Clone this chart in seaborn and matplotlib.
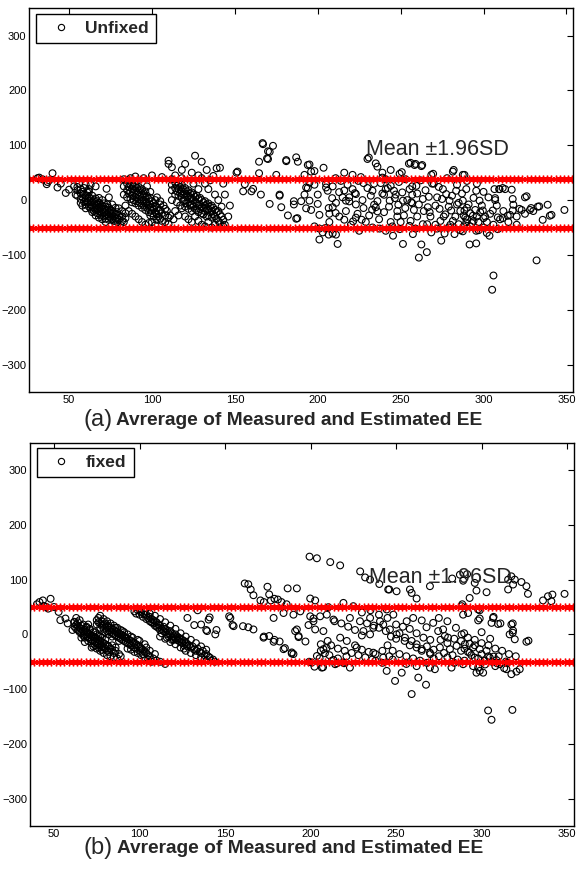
import numpy as np
import pandas as pd
import seaborn as sns
import matplotlib.pyplot as plt
from matplotlib.lines import Line2D

sns.set_style('white')
plt.rcParams['font.family'] = ['Liberation Sans', 'DejaVu Sans']

# ---------------------------------------------------------------------
# (a) Unfixed : (average, difference) pairs
# ---------------------------------------------------------------------
unfixed_left = [(32, 41), (34, 38), (37, 33), (36.5, 29), (40, 49), (43, 23), (45, 30),
                (48, 13), (50, 19), (53, 25), (38, 36), (31, 40)]
unfixed_c1 = [(55, 18), (55, 8), (55, 24), (57, 12), (57, 2), (57, 20), (58, 5), (58, 15),
              (59, -3), (59, 10), (59, 22), (60, 0), (60, 8), (60, -8), (61, 4), (61, -5),
              (61, 14), (62, -2), (62, -12), (62, 6), (63, 2), (63, -8), (63, -16), (64, -4),
              (64, 8), (64, -12), (65, -6), (65, -14), (65, 0), (65, -20), (66, -10), (66, 3),
              (66, -18), (67, -8), (67, -2), (67, -15), (67, -24), (68, -12), (68, -5), (68, -20),
              (68, 4), (69, -14), (69, -8), (69, -22), (69, -28), (70, -10), (70, -18), (70, -25),
              (70, 0), (71, -16), (71, -22), (71, -30), (71, -6), (72, -20), (72, -12), (72, -28),
              (72, -34), (73, -18), (73, -26), (73, -8), (74, -22), (74, -30), (74, -36), (74, -14),
              (75, -24), (75, -32), (75, -18), (76, -28), (76, -36), (76, -20), (77, -30), (77, -24),
              (77, -38), (78, -26), (78, -34), (78, -14), (79, -32), (79, -40), (79, -22), (80, -28),
              (80, -36), (82, -30), (82, -20), (82, -38), (84, -24), (84, -33), (72.6, 20.6),
              (66, 25), (63, 28), (56, 30), (58, -10), (60, -15), (62, 15), (64, -22), (66, -28),
              (68, -32), (70, -35), (72, -40), (74, 5), (76, -8), (78, -44), (80, -15), (81, -45),
              (83, -40), (62, 20), (60, 28), (57, -5), (54, 10)]
unfixed_c2 = [(83, 10), (83, 25), (83, 38), (85, 30), (85, 18), (85, 5), (86, 24), (86, 12),
              (86, 36), (87, 28), (87, 15), (87, 2), (88, 20), (88, 8), (88, 30), (88, -4),
              (89, 25), (89, 14), (89, 0), (90, 18), (90, 5), (90, -6), (90, 28), (91, 22),
              (91, 10), (91, -2), (92, 14), (92, 2), (92, -10), (92, 24), (93, 18), (93, 6),
              (93, -6), (94, 10), (94, -2), (94, -14), (94, 20), (95, 12), (95, 0), (95, -10),
              (96, 6), (96, -6), (96, -18), (96, 16), (97, 8), (97, -4), (97, -14), (98, 2),
              (98, -10), (98, -22), (99, 4), (99, -8), (99, -18), (99, -28), (100, -2), (100, -14),
              (100, -24), (101, -6), (101, -16), (101, -30), (102, -10), (102, -22), (102, 0),
              (103, -14), (103, -26), (103, -36), (104, -20), (104, -30), (105, -18), (105, -34),
              (105, -8), (106, -24), (106, -38), (108, -28), (108, -40), (108, -16), (110, -32),
              (110, -44), (110, 66), (110, 72), (112, 60), (106, 42), (100, 45), (95, 40), (90, 43),
              (84, -10), (86, -20), (88, -25), (90, -30), (92, -35), (94, -40), (96, -45),
              (98, -42), (100, -40), (102, -46), (87, 40), (91, 35), (97, 25), (99, 15), (103, 5),
              (105, -2), (107, -10), (109, -20), (111, -28), (113, -35)]
unfixed_c3 = [(112, 38), (112, 28), (112, 18), (112, 0), (114, 32), (114, 22), (114, 10),
              (114, 45), (115, 26), (115, 16), (115, -4), (116, 30), (116, 20), (116, 8), (117, 24),
              (117, 12), (117, -10), (118, 28), (118, 16), (118, 4), (118, 40), (119, 20), (119, 10),
              (119, -2), (120, 22), (120, 12), (120, 0), (120, -12), (120, 66), (121, 16), (121, 6),
              (121, -6), (122, 18), (122, 8), (122, -4), (122, -16), (123, 12), (123, 2), (123, -10),
              (124, 14), (124, 4), (124, -8), (124, -20), (125, 10), (125, 0), (125, -12), (125, 30),
              (126, 6), (126, -4), (126, -16), (126, 81), (127, 8), (127, -6), (127, -18), (128, 2),
              (128, -10), (128, -22), (128, 20), (129, 4), (129, -8), (129, -16), (130, 0),
              (130, -12), (130, -24), (130, 70), (130, 40), (131, -4), (131, -14), (131, -26),
              (132, -2), (132, -10), (132, -20), (132, 30), (133, -8), (133, -18), (133, -30),
              (134, -6), (134, -16), (134, -28), (134, 20), (135, -12), (135, -22), (135, 36),
              (136, -10), (136, -20), (136, -32), (137, -14), (137, -26), (137, 44), (138, -18),
              (138, -30), (138, 10), (139, -22), (139, -34), (139, 58), (140, -20), (140, -38),
              (140, 0), (141, -26), (141, -42), (141, 59), (142, -30), (142, -12), (143, -36),
              (143, -48), (144, 10), (144, -45), (114, -20), (116, -28), (118, -15), (120, -30),
              (122, -35), (124, -40), (126, -30), (128, -38), (130, -45), (132, -48), (134, -40),
              (136, -50), (138, -45), (118, 55), (124, 50), (128, 45), (133, 55), (143, 30),
              (146, -30), (147, -10)]
unfixed_mid = [(151.6, 52), (156, 29), (155, 16), (164.6, 70), (166.7, 104), (167, 102),
               (173, 99), (171, 88), (169.4, 76), (164.6, 49), (160, 16), (165.7, 10), (171, -7),
               (175, 46), (177, 10), (181, 73), (187, 78), (188, 70), (185.6, -2), (187.7, -33),
               (185.6, -8), (192, 46), (194, 64), (196, 52), (198, 28), (200, 10), (203.5, 59),
               (194, 22), (192, 10), (190, -2), (193, -15), (196, -18), (201, -27), (198, -48),
               (201, -72), (206.6, -63), (204.5, -51), (211, -63), (212, -80), (151, 50), (161, 20.5),
               (170, 89), (170, 75), (177, 8), (178, -13), (182, -28), (187, -34), (181, 71),
               (195, 65), (198, 53), (195, 32), (193, 23), (195, -1), (200, -7), (201, -52),
               (203, -59), (209, -13), (207, -25), (209, -61), (205, 23), (206, 17), (216, 50),
               (219, 5), (217, -1), (223, 11), (223, -32), (225, -56), (230, 75), (233, 17),
               (235, -13)]
unfixed_right = [(255, 66.5), (258.4, 64), (262.5, 62), (239, 50), (249.4, 48), (268.5, 46),
                 (281.5, 52), (287.5, 46), (241, 20), (246, 17), (255.4, 20), (259.5, 26),
                 (275.5, 20), (277.5, 11), (283.5, 17), (289.6, 20), (295.6, 17), (306.6, 20),
                 (309.6, 20), (313, 20), (307, 0), (317.6, 2), (325, 5), (243.4, -1), (251.4, -1),
                 (256.4, -4), (263.4, 2), (266.4, -13), (267.5, -22), (273.5, -16), (279.5, -1),
                 (280.5, -19), (287.5, -1), (288.5, -19), (293.6, -28.5), (297.6, -1), (299.6, -19),
                 (305.6, -19), (308.6, -31.6), (314.6, -28.5), (317.6, -19), (321.7, -16),
                 (328.7, -14.5), (332.7, -12), (338.7, -8.5), (335.7, -36), (340, -28.5),
                 (348.8, -18), (241, -56), (245.4, -65), (251.4, -80), (262.5, -81), (261, -105),
                 (265.8, -95), (274.5, -74), (282.5, -62), (291.6, -81), (295.6, -79), (303.6, -65),
                 (306, -137.6), (305.2, -163.6), (332, -110), (257.4, -62), (268.5, -59),
                 (276.5, -61), (287.5, -57), (295.6, -56), (308.6, -53), (249.4, -53), (255.4, -47),
                 (263.4, -44), (281.5, -38), (289.6, -41), (237.3, -52), (216, 17.6), (222.4, 12.7),
                 (219, -2.4), (227.6, -14.5), (232.8, -17.6), (236, -20.6), (221.3, -38.8),
                 (226.5, -35.8), (234, -8.5), (216, -35.8), (210.8, -23.6), (206.6, -14.5),
                 (208.7, 3.6), (212.9, 14.5), (224.5, 35), (227.6, 31), (238, 31), (242.3, 22),
                 (240, 9.7), (246.5, 3.6), (248.6, -8.5), (252.8, -14.5), (257, -5.5), (257, 9.7),
                 (230.8, 77.6), (235, 67), (236, 61), (256, 68), (259, 66), (263, 64), (282, 55),
                 (288.5, 46), (269.6, 48), (250.7, 51), (244, 55), (239, 41), (210.8, 40),
                 (221, 46), (286, -20), (288, -28), (290, -35), (292, -24), (294, -38), (296, -30),
                 (298, -22), (290, -14), (293, -42), (297, -40), (300, -33), (285, -44), (288, -48),
                 (311.6, 22), (309.5, 20), (317, 19), (307, 3.6), (328, -18), (316, -27),
                 (311.6, -33), (333.6, -11.5), (341, -27), (326, 7), (323, -18), (318, -8.5),
                 (270, 30), (272, 5), (276, -30), (284, -8), (302, -40), (260, -30), (248, -30),
                 (244, -40), (271, -45), (279, -50), (300, -50), (320, -45)]
unfixed_fill = [(205, 30), (207, -40), (209, 25), (211, -5), (213, -30), (214, 35), (215, 5),
                (217, -20), (218, 28), (220, -45), (221, 20), (223, -8), (224, -25), (226, 42),
                (227, 0), (229, -40), (230, 22), (231, -28), (232, 8), (233, -50), (234, 30),
                (236, -2), (237, -35), (239, 12), (240, -22), (241, 38), (243, -12), (244, 26),
                (245, -48), (247, 10), (248, -20), (249, 33), (250, -40), (251, 14), (252, -28),
                (253, 38), (254, 0), (256, -38), (257, 25), (258, -18), (259, -52), (260, 12),
                (261, -8), (262, 36), (264, -20), (265, 18), (266, -44), (267, 6), (268, -30),
                (269, 30), (271, -10), (272, -52), (273, 24), (274, -38), (275, 2), (277, -26),
                (278, 40), (279, -12), (280, -45), (281, 8), (283, -30), (284, 28), (285, -5),
                (286, -55), (287, 12), (289, -32), (290, 35), (291, -8), (292, -48), (294, 4),
                (295, -18), (296, 30), (297, -55), (299, -10), (300, 15), (301, -30), (302, -60),
                (303, 5), (304, -25), (306, -45), (308, -10), (310, -35), (312, -20), (315, -40),
                (320, -30), (325, -25), (330, -20)]

# ---------------------------------------------------------------------
# (b) fixed
# ---------------------------------------------------------------------
fixed_left = [(41.5, 59), (43.5, 62), (48, 65), (45.6, 50), (46.6, 47), (52.7, 41), (53.7, 26),
              (56.7, 29), (61.8, 23), (60.8, 8), (40, 55), (44, 52), (50, 50), (58, 20)]
fixed_c1 = [(62, 22), (62, 14), (63, 18), (63, 10), (64, 16), (64, 8), (64, 22), (65, 12),
            (65, 4), (66, 10), (66, 2), (66, 16), (67, 6), (67, -2), (68, 8), (68, 0), (68, -6),
            (69, 4), (69, -4), (69, 12), (70, 2), (70, -6), (70, -12), (71, 0), (71, -8), (71, 8),
            (72, -2), (72, -10), (72, -16), (73, -4), (73, -12), (73, 4), (74, -6), (74, -14),
            (74, -20), (75, -8), (75, -16), (75, 0), (76, -10), (76, -18), (76, -24), (77, -12),
            (77, -20), (77, -4), (78, -14), (78, -22), (78, -28), (79, -16), (79, -24), (80, -18),
            (80, -26), (80, -10), (81, -20), (81, -30), (82, -22), (82, -32), (83, -26), (84, -28),
            (85, -34), (86, -30), (88, -36), (89, -40), (84, -20), (86, -24), (63, 30), (65, 26),
            (67, 18), (69, 14), (71, 10), (73, -22), (75, -26), (77, -30), (79, -34), (81, -38),
            (83, -40), (85, -42), (87, -44), (70, 18), (66, -6), (68, -14), (72, -24), (74, 4),
            (76, -2), (78, -6)]
fixed_c2 = [(75, 26), (75, 18), (76, 22), (76, 30), (77, 20), (77, 12), (78, 24), (78, 16),
            (79, 18), (79, 10), (80, 20), (80, 12), (80, 4), (81, 14), (81, 6), (82, 16), (82, 8),
            (82, 0), (83, 12), (83, 4), (84, 10), (84, 2), (84, -4), (85, 8), (85, 0), (86, 6),
            (86, -2), (86, 12), (87, 4), (87, -4), (88, 2), (88, -6), (88, -12), (89, 0), (89, -8),
            (90, -2), (90, -10), (90, 6), (91, -4), (91, -12), (92, -6), (92, -14), (93, -8),
            (93, -16), (93, 0), (94, -10), (94, -18), (95, -12), (95, -20), (96, -14), (96, -6),
            (97, -16), (97, -24), (98, -18), (98, -26), (99, -20), (100, -22), (100, -30),
            (101, -26), (102, -28), (102, -36), (103, -32), (104, -34), (105, -38), (106, -40),
            (108, -44), (110, -48), (112, -50), (115, -54), (100, -12), (104, -24), (77, 34),
            (79, 28), (81, 24), (83, 20), (85, 16), (87, 12), (89, 8), (91, 4), (93, -26),
            (95, -28), (97, -32), (99, -34), (101, -38), (103, -42), (105, -46), (107, -50),
            (95, -4), (99, -10), (103, -18), (106, -30), (109, -36)]
fixed_c3 = [(97, 42), (98, 38), (99, 44), (100, 36), (101, 40), (102, 32), (103, 36), (104, 28),
            (104, 36), (105, 30), (106, 24), (106, 32), (107, 22), (107, 28), (108, 20), (108, 26),
            (109, 16), (109, 24), (110, 14), (110, 22), (111, 12), (111, 18), (112, 8), (112, 16),
            (113, 10), (113, 2), (114, 6), (114, 14), (115, 4), (115, 10), (116, 0), (116, 8),
            (117, 2), (117, -4), (118, -2), (118, 6), (119, -6), (119, 2), (120, -4), (120, -10),
            (121, -8), (121, 0), (122, -10), (122, -4), (123, -12), (123, -6), (124, -14),
            (124, -8), (125, -16), (125, -10), (126, -12), (126, -20), (127, -14), (128, -18),
            (128, -22), (129, -20), (130, -24), (131, -22), (132, -28), (133, -30), (134, -26),
            (135, -32), (136, -34), (137, -30), (138, -38), (139, -36), (140, -40), (141, -42),
            (143, -46), (144, -50), (134, 44), (141, 31), (145, 8), (139, 8), (132, 17),
            (128, 30), (136, 18), (140.4, 27), (139.5, 6), (144.3, 0), (100, 46), (103, 42),
            (106, 38), (109, 34), (112, 28), (115, 22), (118, 16), (121, 10), (124, 2), (127, -4),
            (130, -10), (133, -16), (136, -22), (139, -28), (112, -4), (115, -8), (118, -14),
            (121, -18), (124, -24), (127, -30), (130, -34), (133, -38), (136, -42), (142, -48),
            (138, -46), (126, -26), (119, -10), (116, -6)]
fixed_mid = [(152.4, 33), (154.4, 17), (160.5, 15), (163.6, 13), (166.6, 9), (161.5, 93),
             (163.6, 91.5), (165, 82), (166.6, 71.5), (170.7, 62), (172.7, 59), (174.8, 87),
             (175.8, 73), (176.8, 62), (178.9, 65), (180.9, 63.6), (183, 59), (186.6, 84),
             (192, 84), (186, 55), (172.7, -4), (175.8, -3), (178.9, -10), (181.9, -13),
             (185, -25), (189, -33), (190, -36), (192, 9), (193, -3), (197, -13), (178.4, 30),
             (184.2, 39), (190, 36), (194, 42), (191, 6), (193, -5), (198.8, 17), (201.7, 29),
             (205.6, 33), (202.7, 9), (207.5, 6), (207.5, -27), (203.7, -39.5), (200.7, -51.6),
             (206.6, -60.7), (212.4, -48.5), (214.4, -54.5), (219.2, -51.6), (223, -60.7),
             (217.3, -6), (221.2, -12), (227, -24), (230.9, 6), (234.8, 0), (236.7, -33.5),
             (242.5, -42.5), (223, 30), (228.9, 24), (234.8, 30), (240.6, 24), (236.7, 12),
             (153.1, 30), (155, 15), (172.5, -6), (178.4, -13.5), (184.2, -27), (189, -35),
             (199.4, 142), (203.7, 139), (211.5, 132), (217.3, 126), (229, 115), (231.9, 104),
             (234.8, 100), (240.2, 92), (245.4, 82), (199.8, 65.5), (202.7, 62), (210.4, 49.6),
             (199.8, 33), (201.7, 24), (209.5, 36), (213.4, 27), (219.2, 57.5), (225, 51.5),
             (199.2, -50), (202.3, -59), (207.3, -60), (213.4, -46.7), (219.6, -52.7),
             (215.5, -52.7), (205.3, -43.6), (209.4, -25), (208.4, -34.5)]
fixed_right = [(282.8, 102), (287.3, 109), (291.5, 110), (289.2, 98), (296, 94), (297, 80),
               (293, 66.5), (302.9, 77), (315.5, 100), (317.4, 106), (319.4, 100), (318.4, 91),
               (323.3, 95.6), (326.2, 88), (327.1, 74), (315.5, 82), (335.9, 62), (338.8, 69.6),
               (341.4, 72.7), (340.8, 60.5), (348.5, 74), (246, 82), (250.3, 78.7), (258.1, 82),
               (259.1, 75.6), (262, 65.5), (269.8, 88), (288.3, 51.5), (289.2, 36), (292.1, 39),
               (298, 45.5), (298, 25.5), (306.7, 30), (309.6, 19), (305.8, 21), (317.4, 18),
               (316.4, 0), (318.4, 7), (319.4, -9), (326.2, -13.5), (244.5, 45.5), (248.4, 36),
               (256.2, 24), (260, 30), (265, 25.5), (267.8, 13), (271.7, 21), (274.6, 6),
               (277.5, 9), (278.5, -3), (280.4, -6), (288.3, 0), (242.5, 18), (246.4, 9),
               (250.3, 0), (255.2, -6), (259.1, -12), (262, -18), (265, -27), (269.8, -33.5),
               (275.6, -24), (281.5, -27), (285.4, -21), (290.2, -18), (293, -17), (295, -24),
               (298.9, -27), (302.9, -30), (304.8, -42.5), (308.7, -47), (293, -33.5),
               (296, -42.5), (298, -60.7), (297, -70), (298.9, -66.7), (300.9, -70),
               (244.5, -66.7), (249.4, -85), (253.3, -70), (259.1, -109), (263, -79), (267.5, -92),
               (269.8, -60.7), (272.7, -63.6), (282.4, -60.7), (289.2, -54.5), (310.6, -54.5),
               (314.5, -63.6), (317.4, -72.7), (320.4, -68), (322.3, -63.6), (303.8, -139),
               (305.8, -156), (318, -138), (255, -12), (258, -20), (262, -24), (265, -30),
               (268, -22), (270, -36), (272, -28), (275, -40), (278, -34), (280, -42), (283, -38),
               (286, -46), (288, -30), (290, -26), (292, -32), (294, -38), (296, -20), (298, -44),
               (300, -36), (302, -48), (304, -40), (306, -50), (250, -8), (252, 2), (247, -4),
               (244, 6), (240, 12), (237, 16), (233, 20), (230, -2), (226, 8), (222, 14),
               (218, 20), (214, 24), (210, -12), (206, -18), (212, -20), (216, -26), (220, -30),
               (224, -34), (228, -38), (232, -42), (236, -46), (238, -48), (242, -52), (230, 40),
               (235, 44), (240, 36), (245, 30), (313.2, -61.8), (309, -52.7), (307, -40.6),
               (314.2, -49.7), (311, 20), (307, 32), (318.2, 20), (327.4, -11.5), (318.2, 3),
               (298.9, 29), (289.8, 2), (288.7, 55), (298.9, 44)]
fixed_fill = [(245, -20), (248, -30), (252, -36), (256, -40), (260, -44), (264, -48), (268, -52),
              (272, -44), (276, -10), (280, -16), (284, -8), (288, -12), (292, -6), (296, -10),
              (300, -16), (304, -20), (308, -26), (312, -30), (316, -36), (320, -40), (310, -40),
              (305, -8), (300, 4), (285, 12), (280, 24), (275, 30), (270, -10), (266, -6),
              (262, 2), (258, 10), (254, 14), (250, 18), (226, -20), (230, -28), (234, -32),
              (238, -36), (242, -30), (246, -40), (221, -40), (216, -44), (211, -38), (206, -30),
              (248, -46), (256, -54), (262, -58), (284, -52), (290, -48), (295, -58), (302, -55),
              (308, -58), (315, -52)]

# Mean +/- 1.96 SD limits
unfixed_limits = [39, -51]
fixed_limits = [50, -51]

panels = [
    dict(pts=unfixed_left + unfixed_c1 + unfixed_c2 + unfixed_c3 + unfixed_mid
         + unfixed_right + unfixed_fill,
         limits=unfixed_limits, name='Unfixed', tag='(a)', xlim=(26, 354),
         rect=[0.0507, 0.549, 0.9407, 0.4415], mean_xy=(229, 93), lab_y=-0.073),
    dict(pts=fixed_left + fixed_c1 + fixed_c2 + fixed_c3 + fixed_mid + fixed_right + fixed_fill,
         limits=fixed_limits, name='fixed', tag='(b)', xlim=(36, 354),
         rect=[0.052, 0.0495, 0.941, 0.441], mean_xy=(234, 104), lab_y=-0.058),
]

fig = plt.figure(figsize=(5.78, 8.69), dpi=100)

for p in panels:
    ax = fig.add_axes(p['rect'])
    df = pd.DataFrame(p['pts'], columns=['avg', 'diff'])
    sns.scatterplot(data=df, x='avg', y='diff', ax=ax, marker='o', s=24,
                    facecolor='none', edgecolor='black', linewidth=0.8, legend=False)

    # limit lines drawn as MATLAB-style red asterisks
    xs = np.arange(p['xlim'][0], p['xlim'][1] + 1, 2.5)
    for lim in p['limits']:
        ax.plot(xs, np.full(len(xs), lim), color='red', lw=1.0,
                marker=(6, 2, 0), markersize=5.5, markeredgewidth=1.0)

    ax.set_xlim(p['xlim'])
    ax.set_ylim(-350, 350)
    ax.set_xticks(range(50, 351, 50))
    ax.set_yticks(range(-300, 301, 100))
    ax.tick_params(direction='in', length=4, width=0.8, top=True, right=True,
                   labelsize=8, pad=2, colors='black')
    for sp in ax.spines.values():
        sp.set_color('black')
        sp.set_linewidth(1.0)
    ax.set_xlabel('')
    ax.set_ylabel('')

    ax.text(p['mean_xy'][0], p['mean_xy'][1], 'Mean \u00b11.96SD', fontsize=15.5,
            va='center', ha='left')

    handle = Line2D([], [], marker='o', linestyle='none', markersize=4.5,
                    markerfacecolor='none', markeredgecolor='black', markeredgewidth=0.8)
    leg = ax.legend([handle], [p['name']], loc='upper left', bbox_to_anchor=(0.013, 0.986),
                    borderaxespad=0, fancybox=False, framealpha=1, edgecolor='black',
                    prop={'weight': 'bold', 'size': 12.5}, handlelength=2.0,
                    handletextpad=0.42, borderpad=0.4)
    leg.get_frame().set_linewidth(1.0)

    ax.text(0.099, p['lab_y'], p['tag'], transform=ax.transAxes, fontsize=17,
            va='center', ha='left')
    ax.text(0.159, p['lab_y'] - 0.002, 'Avrerage of Measured and Estimated EE',
            transform=ax.transAxes, fontsize=13.8, fontweight='bold', va='center', ha='left')

fig.savefig('out.png', dpi=100)
